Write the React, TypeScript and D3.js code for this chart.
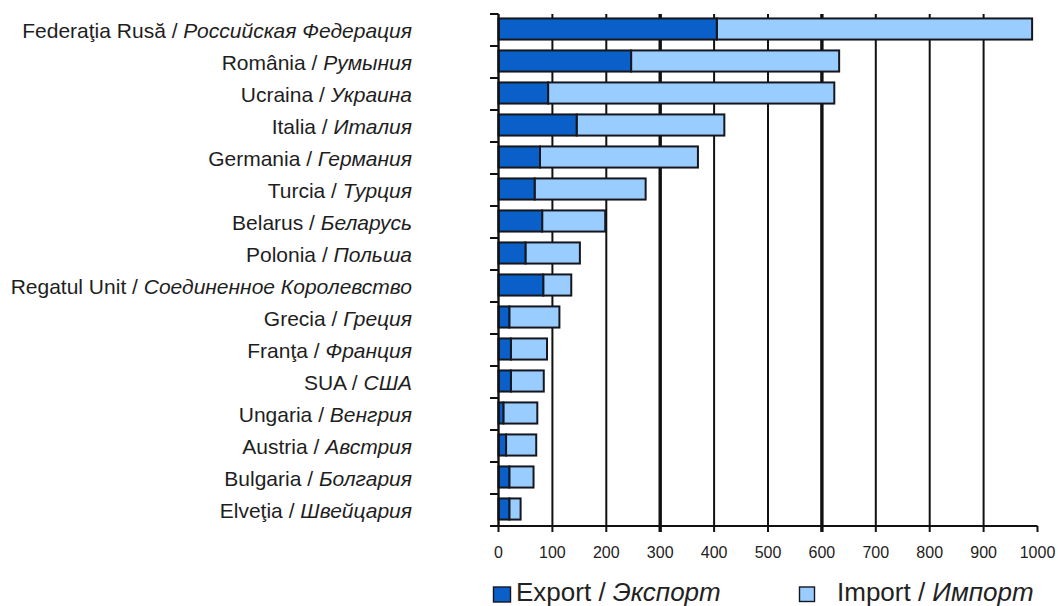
import React from "react";
import * as d3 from "d3";

const countriesRo = ["Federaţia Rusă", "România", "Ucraina", "Italia", "Germania", "Turcia", "Belarus", "Polonia", "Regatul Unit", "Grecia", "Franţa", "SUA", "Ungaria", "Austria", "Bulgaria", "Elveţia"];
const countriesRu = ["Российская Федерация", "Румыния", "Украина", "Италия", "Германия", "Турция", "Беларусь", "Польша", "Соединенное Королевство", "Греция", "Франция", "США", "Венгрия", "Австрия", "Болгария", "Швейцария"];
const exportValues = [405, 246, 92, 145, 77, 67, 81, 50, 83, 20, 23, 23, 9, 14, 20, 20];
const importValues = [585, 386, 531, 274, 293, 206, 117, 101, 52, 93, 67, 61, 63, 56, 45, 21];
const xTicks = [0, 100, 200, 300, 400, 500, 600, 700, 800, 900, 1000];
const gridValues = [100, 200, 300, 400, 500, 600, 700, 800, 900];
const thickGrid = [300, 600];
const legendRo = ["Export", "Import"];
const legendRu = ["Экспорт", "Импорт"];

const EXPORT_COLOR = "#0a60c8";
const IMPORT_COLOR = "#99ccff";
const STROKE = "#16161e";
const FONT = "'Liberation Sans', Arial, sans-serif";

export default function App() {
  const W = 1059, H = 606;
  const x = d3.scaleLinear().domain([0, 1000]).range([498.5, 1037.5]);
  const idx = countriesRo.map((_, i) => String(i));
  const y = d3.scaleBand().domain(idx).range([14, 526]).paddingInner(0.34).paddingOuter(0.17);
  const step = y.step();
  const top = 14, bottom = 526;

  return (
    <svg width={W} height={H} style={{ position: "absolute", left: 0, top: 0, background: "#fff" }} fontFamily={FONT}>
      {/* gridlines */}
      {gridValues.map((v) => (
        <line key={"g" + v} x1={x(v)} x2={x(v)} y1={top} y2={bottom} stroke="#111" strokeWidth={thickGrid.includes(v) ? 3.4 : 2} />
      ))}
      {/* bars */}
      {idx.map((k, i) => {
        const yy = (y(k) as number) - 1;
        const bw = y.bandwidth();
        return (
          <g key={"b" + k}>
            <rect x={x(exportValues[i])} y={yy} width={x(exportValues[i] + importValues[i]) - x(exportValues[i])} height={bw} fill={IMPORT_COLOR} stroke={STROKE} strokeWidth={2} />
            <rect x={x(0)} y={yy} width={x(exportValues[i]) - x(0)} height={bw} fill={EXPORT_COLOR} stroke={STROKE} strokeWidth={2} />
          </g>
        );
      })}
      {/* left axis */}
      <line x1={x(0)} x2={x(0)} y1={top} y2={bottom} stroke="#111" strokeWidth={2.4} />
      {d3.range(idx.length + 1).map((j) => (
        <line key={"lt" + j} x1={490} x2={x(0)} y1={top + j * step} y2={top + j * step} stroke="#111" strokeWidth={2} />
      ))}
      {/* bottom axis */}
      <line x1={x(0)} x2={x(1000)} y1={bottom} y2={bottom} stroke="#111" strokeWidth={2} />
      {xTicks.map((v) => (
        <g key={"xt" + v}>
          <line x1={x(v)} x2={x(v)} y1={bottom} y2={bottom + 6} stroke="#111" strokeWidth={thickGrid.includes(v) ? 3.4 : 2} />
          <text x={x(v)} y={557.5} textAnchor="middle" fontSize={16} fill="#222">{v}</text>
        </g>
      ))}
      {/* category labels */}
      {idx.map((k, i) => (
        <text key={"l" + k} x={412} y={top + i * step + step / 2 + 7.5} textAnchor="end" fontSize={21} fill="#1e1e1e">
          {countriesRo[i]} / <tspan fontStyle="italic">{countriesRu[i]}</tspan>
        </text>
      ))}
      {/* legend */}
      <rect x={493.5} y={587} width={17} height={15} fill={EXPORT_COLOR} stroke={STROKE} strokeWidth={1.4} />
      <text x={516} y={600.5} fontSize={26} fill="#222">{legendRo[0]} / <tspan fontStyle="italic">{legendRu[0]}</tspan></text>
      <rect x={799.5} y={587} width={15} height={14.5} fill={IMPORT_COLOR} stroke={STROKE} strokeWidth={1.4} />
      <text x={837} y={600.5} fontSize={26} fill="#222">{legendRo[1]} / <tspan fontStyle="italic">{legendRu[1]}</tspan></text>
    </svg>
  );
}
